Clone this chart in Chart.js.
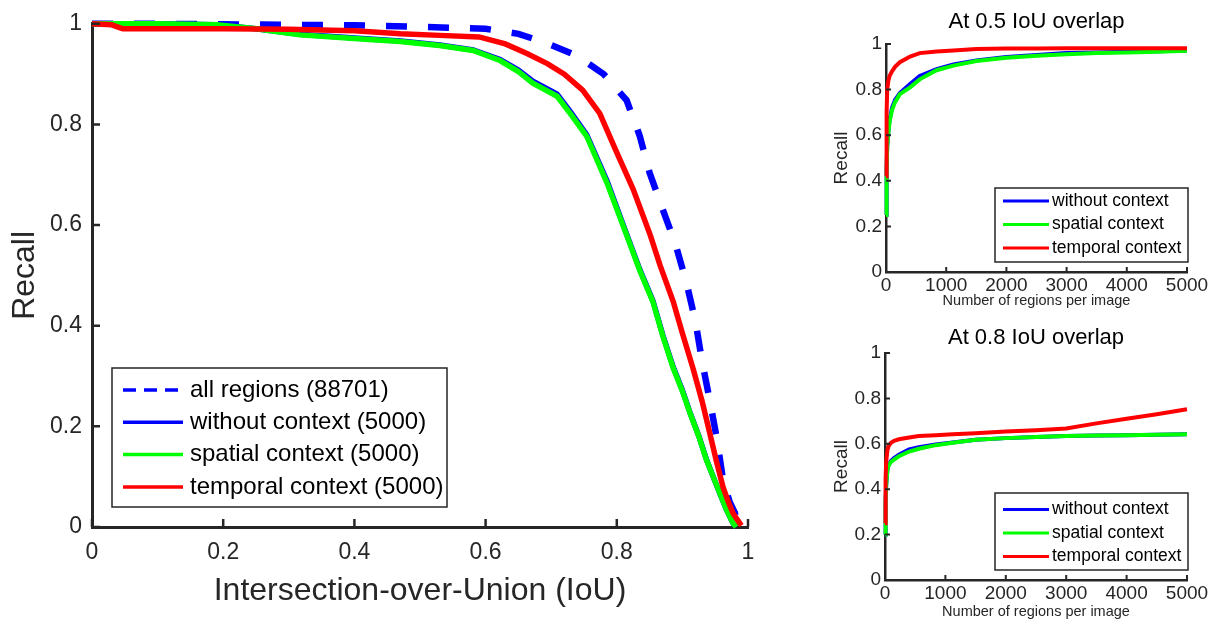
<!DOCTYPE html>
<html>
<head>
<meta charset="utf-8">
<script src="https://cdn.jsdelivr.net/npm/chart.js@4.4.1/dist/chart.umd.min.js"></script>
<style>
  body { margin: 0; background: #fff; width: 1219px; height: 621px; overflow: hidden; position: relative; }
  canvas { position: absolute; }
</style>
</head>
<body>
<canvas id="main" width="800" height="621" style="left:0;top:0"></canvas>
<canvas id="top" width="399" height="310" style="left:820px;top:0"></canvas>
<canvas id="bottom" width="399" height="311" style="left:820px;top:310px"></canvas>
<script>
// data - main chart (recall vs IoU)
const iouAll = [0, 0.1, 0.2, 0.3, 0.4, 0.5, 0.6, 0.65, 0.69, 0.74, 0.78, 0.815, 0.835, 0.85, 0.87, 0.89, 0.907, 0.92, 0.93, 0.942, 0.953, 0.962, 0.972, 0.98, 0.985];
const recallAll = [1, 1, 0.999, 0.998, 0.997, 0.994, 0.99, 0.98, 0.963, 0.936, 0.9, 0.848, 0.777, 0.704, 0.631, 0.56, 0.481, 0.408, 0.329, 0.25, 0.172, 0.093, 0.05, 0.028, 0];

const iouCtx = [0, 0.1, 0.19, 0.25, 0.317, 0.4, 0.47, 0.53, 0.581, 0.622, 0.65, 0.672, 0.709, 0.73, 0.754, 0.785, 0.815, 0.835, 0.855, 0.87, 0.886, 0.9, 0.912, 0.925, 0.937, 0.947, 0.957, 0.967, 0.977, 0.982];
const recallWithout = [1, 1, 0.998, 0.99, 0.979, 0.972, 0.966, 0.958, 0.948, 0.929, 0.908, 0.886, 0.86, 0.824, 0.78, 0.688, 0.582, 0.512, 0.45, 0.382, 0.318, 0.272, 0.226, 0.181, 0.133, 0.1, 0.067, 0.035, 0.008, 0];
const recallSpatial = [1, 1, 0.998, 0.99, 0.978, 0.971, 0.965, 0.957, 0.947, 0.927, 0.905, 0.882, 0.856, 0.82, 0.777, 0.684, 0.58, 0.51, 0.448, 0.38, 0.316, 0.27, 0.225, 0.18, 0.132, 0.1, 0.067, 0.035, 0.008, 0];

const iouTemp = [0, 0.03, 0.047, 0.1, 0.2, 0.3, 0.4, 0.47, 0.53, 0.59, 0.63, 0.663, 0.694, 0.72, 0.748, 0.774, 0.8, 0.825, 0.851, 0.866, 0.886, 0.9, 0.916, 0.93, 0.942, 0.952, 0.962, 0.97, 0.977, 0.985, 0.99];
const recallTemp = [1, 0.998, 0.99, 0.99, 0.99, 0.989, 0.986, 0.98, 0.977, 0.974, 0.96, 0.941, 0.921, 0.9, 0.868, 0.822, 0.744, 0.671, 0.58, 0.52, 0.448, 0.385, 0.316, 0.25, 0.185, 0.13, 0.079, 0.05, 0.028, 0.012, 0.003];

// data - small charts (recall vs number of regions)
const regions = [0, 10, 20, 40, 60, 100, 150, 230, 400, 560, 840, 1120, 1500, 2000, 2500, 3000, 3500, 4000, 4500, 5000];
const without50 = [0.25, 0.45, 0.55, 0.62, 0.67, 0.72, 0.755, 0.785, 0.825, 0.86, 0.89, 0.91, 0.928, 0.943, 0.952, 0.96, 0.963, 0.966, 0.968, 0.972];
const spatial50 = [0.25, 0.45, 0.55, 0.61, 0.66, 0.71, 0.745, 0.78, 0.81, 0.845, 0.885, 0.905, 0.925, 0.94, 0.948, 0.955, 0.96, 0.963, 0.966, 0.97];
const temporal50 = [0.42, 0.7, 0.8, 0.84, 0.86, 0.88, 0.9, 0.92, 0.945, 0.96, 0.967, 0.972, 0.978, 0.98, 0.98, 0.981, 0.981, 0.981, 0.981, 0.981];

const without80 = [0.2, 0.35, 0.42, 0.486, 0.508, 0.525, 0.537, 0.552, 0.575, 0.585, 0.597, 0.606, 0.618, 0.625, 0.63, 0.634, 0.637, 0.638, 0.64, 0.642];
const spatial80 = [0.2, 0.35, 0.42, 0.484, 0.505, 0.52, 0.53, 0.545, 0.566, 0.578, 0.594, 0.605, 0.618, 0.625, 0.63, 0.634, 0.637, 0.638, 0.64, 0.642];
const temporal80 = [0.25, 0.45, 0.52, 0.572, 0.59, 0.605, 0.613, 0.62, 0.628, 0.634, 0.638, 0.642, 0.646, 0.654, 0.66, 0.667, 0.69, 0.71, 0.73, 0.752];

const recallTicks = [0, 0.2, 0.4, 0.6, 0.8, 1];

const axisColor = '#262626';
Chart.defaults.font.family = "'Liberation Sans', Arial, sans-serif";
Chart.defaults.color = axisColor;

function pts(xs, ys) {
    return xs.map((x, i) => ({ x: x, y: ys[i] }));
}

// inward tick marks like matlab
const inTicks = {
    id: 'inTicks',
    afterDraw(chart, args, o) {
        const { ctx, chartArea: a, scales: { x, y } } = chart;
        ctx.save();
        ctx.strokeStyle = axisColor;
        ctx.lineWidth = o.width;
        ctx.beginPath();
        x.ticks.forEach(t => {
            const px = x.getPixelForValue(t.value);
            ctx.moveTo(px, a.bottom);
            ctx.lineTo(px, a.bottom - o.len);
        });
        y.ticks.forEach(t => {
            const py = y.getPixelForValue(t.value);
            ctx.moveTo(a.left, py);
            ctx.lineTo(a.left + o.len, py);
        });
        ctx.stroke();
        ctx.restore();
    }
};

// boxed legend inside the plot
const boxLegend = {
    id: 'boxLegend',
    afterDraw(chart, args, o) {
        const ctx = chart.ctx;
        ctx.save();
        ctx.fillStyle = '#fff';
        ctx.fillRect(o.x, o.y, o.w, o.h);
        ctx.strokeStyle = axisColor;
        ctx.lineWidth = 1.5;
        ctx.strokeRect(o.x, o.y, o.w, o.h);
        ctx.font = o.font + "px 'Liberation Sans', Arial, sans-serif";
        ctx.textBaseline = 'middle';
        chart.data.datasets.forEach((ds, i) => {
            const cy = o.y + o.first + i * o.row;
            ctx.strokeStyle = ds.borderColor;
            ctx.lineWidth = o.lineWidth;
            ctx.setLineDash(ds.borderDash ? o.dash : []);
            ctx.beginPath();
            ctx.moveTo(o.x + o.lx0, cy);
            ctx.lineTo(o.x + o.lx1, cy);
            ctx.stroke();
            ctx.setLineDash([]);
            ctx.fillStyle = '#000';
            ctx.fillText(ds.label, o.x + o.tx, cy);
        });
        ctx.restore();
    }
};

function line(label, data, color, width, order, dash) {
    const ds = {
        label: label, data: data, borderColor: color, borderWidth: width,
        pointRadius: 0, tension: 0, fill: false, clip: false, order: order
    };
    if (dash) ds.borderDash = dash;
    return ds;
}

function axis(o) {
    return {
        type: 'linear', min: o.min, max: o.max,
        afterBuildTicks(s) { s.ticks = o.ticks.map(v => ({ value: v })); },
        ticks: { font: { size: o.tickSize }, color: axisColor, padding: o.pad, callback: v => String(v) },
        grid: { display: false, drawTicks: false },
        border: { display: true, color: axisColor, width: o.border },
        title: { display: true, text: o.title, font: { size: o.titleSize }, color: axisColor, padding: o.titlePad },
        afterFit(s) { if (o.height) s.height = o.height; if (o.width) s.width = o.width; }
    };
}

//main chart
new Chart(document.getElementById('main'), {
    type: 'line',
    data: {
        datasets: [
            line('all regions (88701)', pts(iouAll, recallAll), '#0000ff', 6.5, 4, [21, 21]),
            line('without context (5000)', pts(iouCtx, recallWithout), '#0000ff', 5.5, 3),
            line('spatial context (5000)', pts(iouCtx, recallSpatial), '#00ff00', 5.5, 2),
            line('temporal context (5000)', pts(iouTemp, recallTemp), '#ff0000', 5.5, 1)
        ]
    },
    options: {
        responsive: false,
        animation: false,
        layout: { padding: { top: 20, right: 52, left: 0, bottom: 0 } },
        plugins: {
            legend: { display: false },
            tooltip: { enabled: false },
            inTicks: { len: 8, width: 2.5 },
            boxLegend: { x: 112, y: 368, w: 335, h: 139, first: 22, row: 32.3, lx0: 11, lx1: 71, tx: 78, font: 24, lineWidth: 3.5, dash: [13, 8] }
        },
        scales: {
            x: axis({ min: 0, max: 1, ticks: [0, 0.2, 0.4, 0.6, 0.8, 1], tickSize: 23, pad: 12, border: 3,
                title: 'Intersection-over-Union (IoU)', titleSize: 32, titlePad: { top: 0, bottom: 11 }, height: 94 }),
            y: axis({ min: 0, max: 1, ticks: recallTicks, tickSize: 23, pad: 10, border: 3,
                title: 'Recall', titleSize: 32, titlePad: { top: 6, bottom: 0 }, width: 92 })
        }
    },
    plugins: [inTicks, boxLegend]
});

//small charts
function smallChart(id, titleText, titlePad, w50, s50, t50, yWidth, xHeight, leg) {
    new Chart(document.getElementById(id), {
        type: 'line',
        data: {
            datasets: [
                line('without context', pts(regions, w50), '#0000ff', 4, 3),
                line('spatial context', pts(regions, s50), '#00ff00', 4, 2),
                line('temporal context', pts(regions, t50), '#ff0000', 4, 1)
            ]
        },
        options: {
            responsive: false,
            animation: false,
            layout: { padding: { top: 0, right: 32, left: 0, bottom: 0 } },
            plugins: {
                legend: { display: false },
                tooltip: { enabled: false },
                title: { display: true, text: titleText, fullSize: false, color: '#000',
                    font: { size: 22, weight: 'normal' }, padding: titlePad },
                inTicks: { len: 5, width: 2 },
                boxLegend: leg
            },
            scales: {
                x: axis({ min: 0, max: 5000, ticks: [0, 1000, 2000, 3000, 4000, 5000], tickSize: 19, pad: 2, border: 2.5,
                    title: 'Number of regions per image', titleSize: 14.5, titlePad: { top: 0, bottom: 0 }, height: xHeight }),
                y: axis({ min: 0, max: 1, ticks: recallTicks, tickSize: 19, pad: 4, border: 2.5,
                    title: 'Recall', titleSize: 19, titlePad: { top: 10.6, bottom: 0 }, width: yWidth })
            }
        },
        plugins: [inTicks, boxLegend]
    });
}

smallChart('top', 'At 0.5 IoU overlap', { top: 9, bottom: 8.6 }, without50, spatial50, temporal50, 66, 38,
    { x: 175, y: 188, w: 193, h: 74, first: 13, row: 23.5, lx0: 8, lx1: 54, tx: 57, font: 17.5, lineWidth: 3 });
smallChart('bottom', 'At 0.8 IoU overlap', { top: 14.8, bottom: 1.8 }, without80, spatial80, temporal80, 65, 41,
    { x: 175, y: 183, w: 193, h: 77, first: 16.5, row: 23.5, lx0: 8, lx1: 54, tx: 57, font: 17.5, lineWidth: 3 });
</script>
</body>
</html>
